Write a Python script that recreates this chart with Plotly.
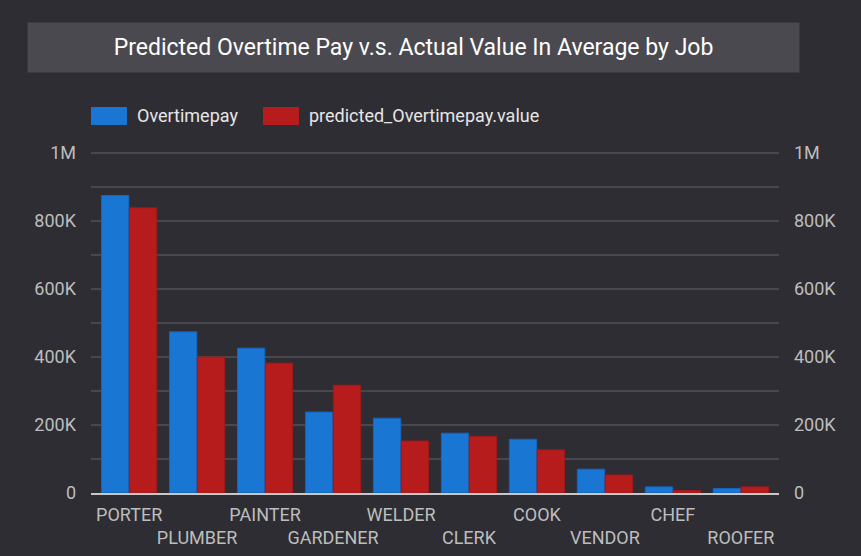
import plotly.graph_objects as go

jobs = ["PORTER", "PLUMBER", "PAINTER", "GARDENER", "WELDER",
        "CLERK", "COOK", "VENDOR", "CHEF", "ROOFER"]
overtimepay = [875000, 474000, 426000, 238000, 220000,
               176000, 158000, 70000, 18000, 13000]
predicted = [839000, 400000, 382000, 317000, 153000,
             167000, 127000, 53000, 7000, 18000]
series_names = ["Overtimepay", "predicted_Overtimepay.value"]
series_colors = ["#1976D2", "#B71C1C"]
tick_vals = [0, 200000, 400000, 600000, 800000, 1000000]
tick_text = ["0", "200K", "400K", "600K", "800K", "1M"]

BG = "#2E2D33"
GRID = "#48474E"
TICK = "#BDBDBD"

# staggered category labels (every second one on a lower row)
job_labels = [j if i % 2 == 0 else "<br>" + j for i, j in enumerate(jobs)]

fig = go.Figure()
fig.add_trace(go.Bar(x=jobs, y=overtimepay, name=series_names[0],
                     marker=dict(color=series_colors[0],
                                 line=dict(color="#1565C0", width=1))))
fig.add_trace(go.Bar(x=jobs, y=predicted, name=series_names[1],
                     marker=dict(color=series_colors[1],
                                 line=dict(color="#A31818", width=1))))
# invisible trace so the right axis gets drawn
fig.add_trace(go.Scatter(x=jobs, y=overtimepay, yaxis="y2", mode="markers",
                         marker=dict(opacity=0), showlegend=False,
                         hoverinfo="skip"))

fig.update_layout(
    width=861, height=556,
    paper_bgcolor=BG, plot_bgcolor=BG,
    font=dict(family="Roboto", color=TICK, size=18),
    margin=dict(l=91, r=82, t=151, b=63, autoexpand=False),
    barmode="group", bargap=0.18, bargroupgap=0.02,
    showlegend=False,
    xaxis=dict(tickvals=jobs, ticktext=job_labels, showgrid=False,
               showline=True, linecolor="#C8C8C8", linewidth=2,
               ticks="", tickangle=0, automargin=False, ticklabelstandoff=4,
               tickfont=dict(size=18, color=TICK)),
    yaxis=dict(range=[0, 1006000], tickvals=tick_vals, ticktext=tick_text,
               gridcolor=GRID, gridwidth=2, zeroline=False,
               ticks="", ticklabelstandoff=14, automargin=False,
               minor=dict(dtick=100000, showgrid=True, gridcolor=GRID, gridwidth=2)),
    yaxis2=dict(range=[0, 1006000], tickvals=tick_vals, ticktext=tick_text,
                overlaying="y", side="right", showgrid=False, zeroline=False,
                ticks="", ticklabelstandoff=14, automargin=False),
)

# title box
fig.add_annotation(text="Predicted Overtime Pay v.s. Actual Value In Average by Job",
                   xref="paper", yref="paper", x=0.469, y=1.303,
                   xanchor="center", yanchor="middle", showarrow=False,
                   width=767, height=45, borderpad=2, bgcolor="#4A4950",
                   font=dict(size=23, color="#FFFFFF"))

# legend drawn by hand to get the wide swatches
legend_x = [0.0, 0.25]
for name, color, lx in zip(series_names, series_colors, legend_x):
    fig.add_shape(type="rect", xref="paper", yref="paper",
                  x0=lx, x1=lx + 0.0523, y0=1.076, y1=1.129,
                  fillcolor=color, line=dict(width=0))
    fig.add_annotation(text=name, xref="paper", yref="paper",
                       x=lx + 0.064, y=1.103, xanchor="left", yanchor="middle",
                       showarrow=False, font=dict(size=18, color="#E6E6E6"))

fig.write_html("out.html", config={"displayModeBar": False},
               post_script="document.body.style.margin='0';")
